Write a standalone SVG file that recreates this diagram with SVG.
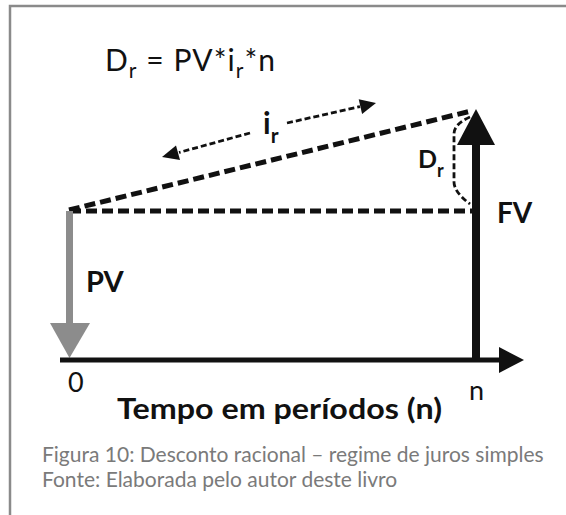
<svg xmlns="http://www.w3.org/2000/svg" width="566" height="515" viewBox="0 0 566 515">
<style>
.lbl{font-family:Lato,"Open Sans","DejaVu Sans",sans-serif;fill:#111}
.b{font-weight:bold}
.cap{font-family:Lato,"Open Sans",sans-serif;fill:#7a7a7a;font-size:21px}
.thickdash{stroke:#111;stroke-width:5;stroke-dasharray:11 5;fill:none}
.thindash{stroke:#111;stroke-width:2.8;stroke-dasharray:6 3;fill:none}
.head{fill:#111}
</style>
<rect x="0" y="0" width="566" height="515" fill="#fff"/>
<path d="M10,516 V6 H567" fill="none" stroke="#8a8a8a" stroke-width="2.5"/>

<g id="formula">
<text class="lbl" x="105" y="71" font-size="30" textLength="170" lengthAdjust="spacing">D<tspan font-size="21" dy="7">r</tspan><tspan dy="-7"> = PV*i</tspan><tspan font-size="21" dy="7">r</tspan><tspan dy="-7">*n</tspan></text>
</g>

<g id="connectors">
<line class="thickdash" x1="69" y1="210" x2="471" y2="111"/>
<line class="thickdash" x1="70" y1="211" x2="472" y2="211"/>
<line class="thindash" x1="250" y1="133" x2="179" y2="152.5"/>
<polygon class="head" points="162,157 180,159.9 176,145.5"/>
<line class="thindash" x1="287" y1="123" x2="360" y2="106.6"/>
<polygon class="head" points="376,103 362.1,113.9 358.7,99.3"/>
<path class="thindash" d="M470,117 Q454,124 454,134 V182 Q454,192 470,204"/>
</g>

<g id="pv">
<rect x="66" y="211" width="7" height="113" fill="#8c8c8c"/>
<polygon points="50,323 90,323 69.5,358" fill="#8c8c8c"/>
<text class="lbl b" x="86" y="292" font-size="29">PV</text>
</g>

<g id="axis">
<line x1="60" y1="360" x2="502" y2="360" stroke="#111" stroke-width="5"/>
<polygon points="499,347 499,373 524,360" fill="#111"/>
<text class="lbl" x="68" y="392" font-size="27">0</text>
<text class="lbl" x="469" y="400" font-size="27">n</text>
<text class="lbl b" x="117" y="419" font-size="29" textLength="325" lengthAdjust="spacingAndGlyphs">Tempo em períodos (n)</text>
</g>

<g id="fv">
<rect x="472" y="144" width="8" height="218" fill="#111"/>
<polygon points="457,145 495,145 476,109" fill="#111"/>
<text class="lbl b" x="497" y="223" font-size="28">FV</text>
</g>

<g id="ir">
<text class="lbl b" x="263" y="134" font-size="30">i<tspan font-size="21" dy="9">r</tspan></text>
</g>

<g id="dr">
<text class="lbl b" x="418" y="168" font-size="25">D<tspan font-size="18" dy="9">r</tspan></text>
</g>

<g id="caption">
<text class="cap" x="42" y="462">Figura 10: Desconto racional – regime de juros simples</text>
<text class="cap" x="42" y="487">Fonte: Elaborada pelo autor deste livro</text>
</g>
</svg>
